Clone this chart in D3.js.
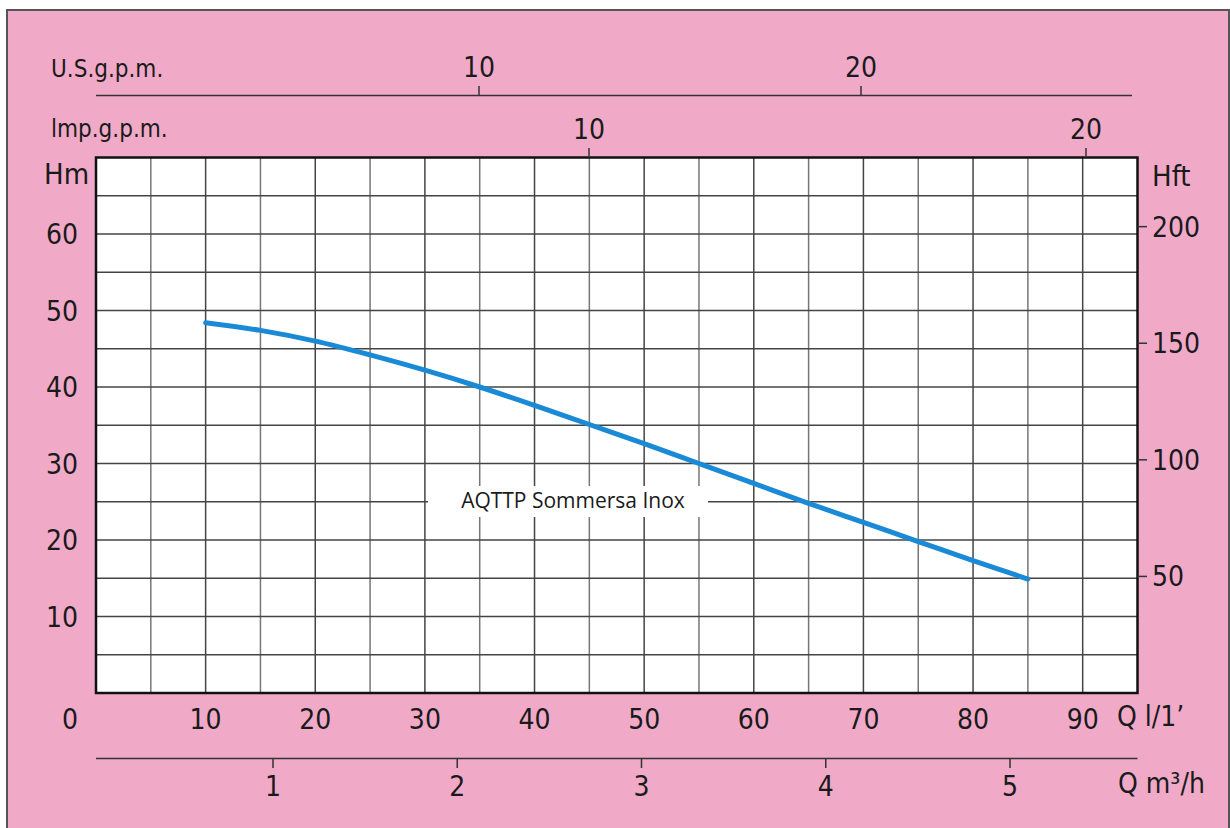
<!DOCTYPE html>
<html>
<head>
<meta charset="utf-8">
<script src="https://cdn.jsdelivr.net/npm/d3@7"></script>
<style>
  body { margin: 0; background: #fff; }
  text { font-family: "DejaVu Sans Condensed", "DejaVu Sans", sans-serif; font-stretch: condensed; fill: #1a1a1a; }
</style>
</head>
<body>
<div id="chart"></div>
<script>
// Curve data: flow in l/min and head in metres
var flowLpm = [10, 15, 20, 25, 30, 35, 40, 45, 50, 55, 60, 65, 70, 75, 80, 85];
var headM   = [48.4, 47.4, 46.0, 44.2, 42.2, 40.0, 37.6, 35.1, 32.6, 30.0, 27.4, 24.8, 22.3, 19.8, 17.3, 14.9];
var seriesName = "AQTTP Sommersa Inox";

// Tick labels
var lpmTicks = [10, 20, 30, 40, 50, 60, 70, 80, 90];
var hmTicks = [10, 20, 30, 40, 50, 60];
var hftTicks = [50, 100, 150, 200];
var m3hTicks = [1, 2, 3, 4, 5];
var impTicks = [10, 20];
var usTicks = [10, 20];

var W = 1230, H = 828;
var pLeft = 96, pRight = 1137.5, pTop = 157.5, pBottom = 693;

var svg = d3.select("#chart").append("svg")
    .attr("width", W)
    .attr("height", H);

// Pink page with frame
svg.append("rect")
    .attr("x", 7).attr("y", 10)
    .attr("width", 1222).attr("height", 830)
    .attr("fill", "#f0aac8")
    .attr("stroke", "#555")
    .attr("stroke-width", 2);

// Scales
var x = d3.scaleLinear().domain([0, 95]).range([pLeft, pRight]);
var y = d3.scaleLinear().domain([0, 70]).range([pBottom, pTop]);
var yft = d3.scaleLinear().domain([0, 70 / 0.3048]).range([pBottom, pTop]);
// secondary flow scales, placed as printed on the sheet
var xm3 = d3.scaleLinear().domain([1, 5]).range([273, 1010]);
var ximp = d3.scaleLinear().domain([10, 20]).range([589, 1086]);
var xus = d3.scaleLinear().domain([10, 20]).range([479, 861]);

// Plot area
svg.append("rect")
    .attr("x", pLeft).attr("y", pTop)
    .attr("width", pRight - pLeft).attr("height", pBottom - pTop)
    .attr("fill", "#fff");

// Grid
var g = svg.append("g");
g.selectAll(".vgrid")
    .data(d3.range(5, 95, 5))
    .enter().append("line")
    .attr("x1", d => x(d)).attr("x2", d => x(d))
    .attr("y1", pTop).attr("y2", pBottom)
    .attr("stroke", d => d % 10 === 0 ? "#444" : "#777")
    .attr("stroke-width", 1.5);

g.selectAll(".hgrid")
    .data(d3.range(5, 70, 5))
    .enter().append("line")
    .attr("x1", pLeft).attr("x2", pRight)
    .attr("y1", d => y(d)).attr("y2", d => y(d))
    .attr("stroke", "#444")
    .attr("stroke-width", 1.5);

// Curve
var line = d3.line()
    .x((d, i) => x(flowLpm[i]))
    .y(d => y(d))
    .curve(d3.curveCatmullRom);

svg.append("path")
    .datum(headM)
    .attr("d", line)
    .attr("fill", "none")
    .attr("stroke", "#1a8ad6")
    .attr("stroke-width", 5)
    .attr("stroke-linecap", "round");

// Series label with white box
var lab = svg.append("g");
lab.append("rect")
    .attr("x", 428).attr("y", 486)
    .attr("width", 280).attr("height", 31)
    .attr("fill", "#fff");
lab.append("text")
    .attr("x", 573).attr("y", 508)
    .attr("text-anchor", "middle")
    .style("font-family", "'Open Sans', 'Noto Sans', sans-serif")
    .style("font-stretch", "normal")
    .style("font-size", "21px")
    .text(seriesName);

// Plot border
svg.append("rect")
    .attr("x", pLeft).attr("y", pTop)
    .attr("width", pRight - pLeft).attr("height", pBottom - pTop)
    .attr("fill", "none")
    .attr("stroke", "#111")
    .attr("stroke-width", 2.5);

var fs = "28px";

// Bottom axis l/min labels
svg.selectAll(".lpm")
    .data(lpmTicks)
    .enter().append("text")
    .attr("x", d => x(d)).attr("y", 729)
    .attr("text-anchor", "middle")
    .style("font-size", fs)
    .text(d => d);
svg.append("text")
    .attr("x", x(0) - 26).attr("y", 729)
    .attr("text-anchor", "middle")
    .style("font-size", fs)
    .text("0");
svg.append("text")
    .attr("x", 1117).attr("y", 726)
    .style("font-size", fs)
    .text("Q l/1\u2019");

// m3/h axis
svg.append("line")
    .attr("x1", pLeft).attr("x2", pRight)
    .attr("y1", 758.5).attr("y2", 758.5)
    .attr("stroke", "#333").attr("stroke-width", 1.5);
svg.selectAll(".m3t")
    .data(m3hTicks)
    .enter().append("line")
    .attr("x1", d => xm3(d)).attr("x2", d => xm3(d))
    .attr("y1", 758).attr("y2", 768)
    .attr("stroke", "#333").attr("stroke-width", 1.5);
svg.selectAll(".m3l")
    .data(m3hTicks)
    .enter().append("text")
    .attr("x", d => xm3(d)).attr("y", 796)
    .attr("text-anchor", "middle")
    .style("font-size", fs)
    .text(d => d);
svg.append("text")
    .attr("x", 1118).attr("y", 793)
    .style("font-size", fs)
    .text("Q m\u00b3/h");

// Imp gpm axis (top edge of plot)
svg.selectAll(".impt")
    .data(impTicks)
    .enter().append("line")
    .attr("x1", d => ximp(d)).attr("x2", d => ximp(d))
    .attr("y1", pTop).attr("y2", 148)
    .attr("stroke", "#333").attr("stroke-width", 1.5);
svg.selectAll(".impl")
    .data(impTicks)
    .enter().append("text")
    .attr("x", d => ximp(d)).attr("y", 139)
    .attr("text-anchor", "middle")
    .style("font-size", fs)
    .text(d => d);
svg.append("text")
    .attr("x", 51).attr("y", 137)
    .style("font-size", "24px")
    .text("lmp.g.p.m.");

// US gpm axis
svg.append("line")
    .attr("x1", pLeft).attr("x2", 1132)
    .attr("y1", 95.5).attr("y2", 95.5)
    .attr("stroke", "#333").attr("stroke-width", 1.5);
svg.selectAll(".ust")
    .data(usTicks)
    .enter().append("line")
    .attr("x1", d => xus(d)).attr("x2", d => xus(d))
    .attr("y1", 95).attr("y2", 86)
    .attr("stroke", "#333").attr("stroke-width", 1.5);
svg.selectAll(".usl")
    .data(usTicks)
    .enter().append("text")
    .attr("x", d => xus(d)).attr("y", 77)
    .attr("text-anchor", "middle")
    .style("font-size", fs)
    .text(d => d);
svg.append("text")
    .attr("x", 51).attr("y", 77)
    .style("font-size", "24px")
    .text("U.S.g.p.m.");

// Left Hm axis
svg.selectAll(".hml")
    .data(hmTicks)
    .enter().append("text")
    .attr("x", 78).attr("y", d => y(d) + 10)
    .attr("text-anchor", "end")
    .style("font-size", fs)
    .text(d => d);
svg.append("text")
    .attr("x", 44).attr("y", 184)
    .style("font-size", "29px")
    .text("Hm");

// Right Hft axis
svg.selectAll(".hftt")
    .data(hftTicks)
    .enter().append("line")
    .attr("x1", pRight).attr("x2", 1147)
    .attr("y1", d => yft(d)).attr("y2", d => yft(d))
    .attr("stroke", "#333").attr("stroke-width", 1.5);
svg.selectAll(".hftl")
    .data(hftTicks)
    .enter().append("text")
    .attr("x", 1152).attr("y", d => yft(d) + 10)
    .style("font-size", fs)
    .text(d => d);
svg.append("text")
    .attr("x", 1152).attr("y", 186)
    .style("font-size", "29px")
    .text("Hft");
</script>
</body>
</html>
